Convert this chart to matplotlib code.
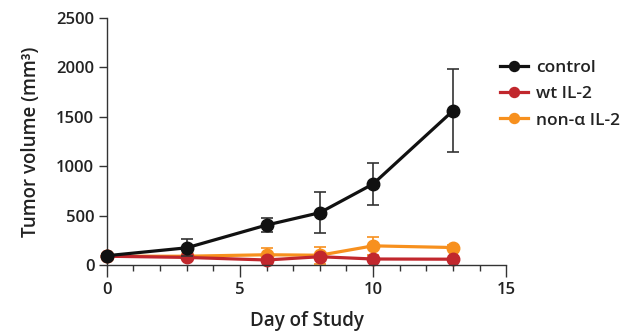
import numpy as np
import matplotlib
matplotlib.use("Agg")
import matplotlib.pyplot as plt
from matplotlib.ticker import MultipleLocator

# datos
dias = [0, 3, 6, 8, 10, 13]
control = [95, 175, 405, 530, 820, 1560]
control_err = [20, 85, 70, 210, 210, 420]
wt_il2 = [90, 78, 52, 85, 62, 60]
wt_err = [10, 15, 15, 20, 15, 15]
non_a_il2 = [90, 90, 105, 100, 195, 178]
non_a_err = [10, 15, 70, 85, 90, 25]

etiquetas = ["control", "wt IL-2", "non-\u03b1 IL-2"]
colores = ["#111111", "#c1272d", "#f7901e"]

plt.rcParams['font.family'] = ['Open Sans', 'DejaVu Sans']
texto = "#222222"

fig = plt.figure(figsize=(6.28, 3.31), dpi=100)
ax = fig.add_axes([0.170, 0.199, 0.636, 0.747])

series = [(control, control_err, 3), (wt_il2, wt_err, 2), (non_a_il2, non_a_err, 1)]
handles = []
for (vals, err, z), col, lab in zip(series, colores, etiquetas):
    h = ax.errorbar(dias, vals, yerr=err, color=col, lw=2.3, marker='o', ms=9,
                    capsize=4, elinewidth=1.2, capthick=1.2, ecolor="#333333" if col == "#111111" else col,
                    zorder=z, label=lab, clip_on=False)
    handles.append(h)

ax.set_xlim(0, 15)
ax.set_ylim(0, 2500)
ax.xaxis.set_major_locator(MultipleLocator(5))
ax.xaxis.set_minor_locator(MultipleLocator(1))
ax.yaxis.set_major_locator(MultipleLocator(500))
for s in ['top', 'right']:
    ax.spines[s].set_visible(False)
for s in ['left', 'bottom']:
    ax.spines[s].set_color("#333333")
    ax.spines[s].set_linewidth(1.0)
ax.tick_params(axis='y', which='major', length=6, width=1.0, color="#333333",
               labelsize=12, labelcolor=texto, pad=3)
ax.tick_params(axis='x', which='major', length=8.5, width=1.0, color="#333333",
               labelsize=12, labelcolor=texto, pad=4)
ax.tick_params(axis='x', which='minor', length=4, width=1.0, color="#333333")
for lbl in ax.get_xticklabels() + ax.get_yticklabels():
    lbl.set_fontweight('semibold')

ax.set_xlabel("Day of Study", fontsize=13.5, color=texto, fontweight='semibold', labelpad=9)
ax.set_ylabel("Tumor volume (mm\u00b3)", fontsize=13.5, color=texto, fontweight='semibold', labelpad=11)

leg = fig.legend(handles=[h[0] for h in handles], labels=etiquetas, loc='upper left',
                 bbox_to_anchor=(0.772, 0.866), frameon=False, fontsize=12.5, handlelength=1.6,
                 labelspacing=0.58, handletextpad=0.45, labelcolor=texto, markerscale=0.8)
for t in leg.get_texts():
    t.set_fontweight('semibold')

fig.savefig("out.png", dpi=100)
